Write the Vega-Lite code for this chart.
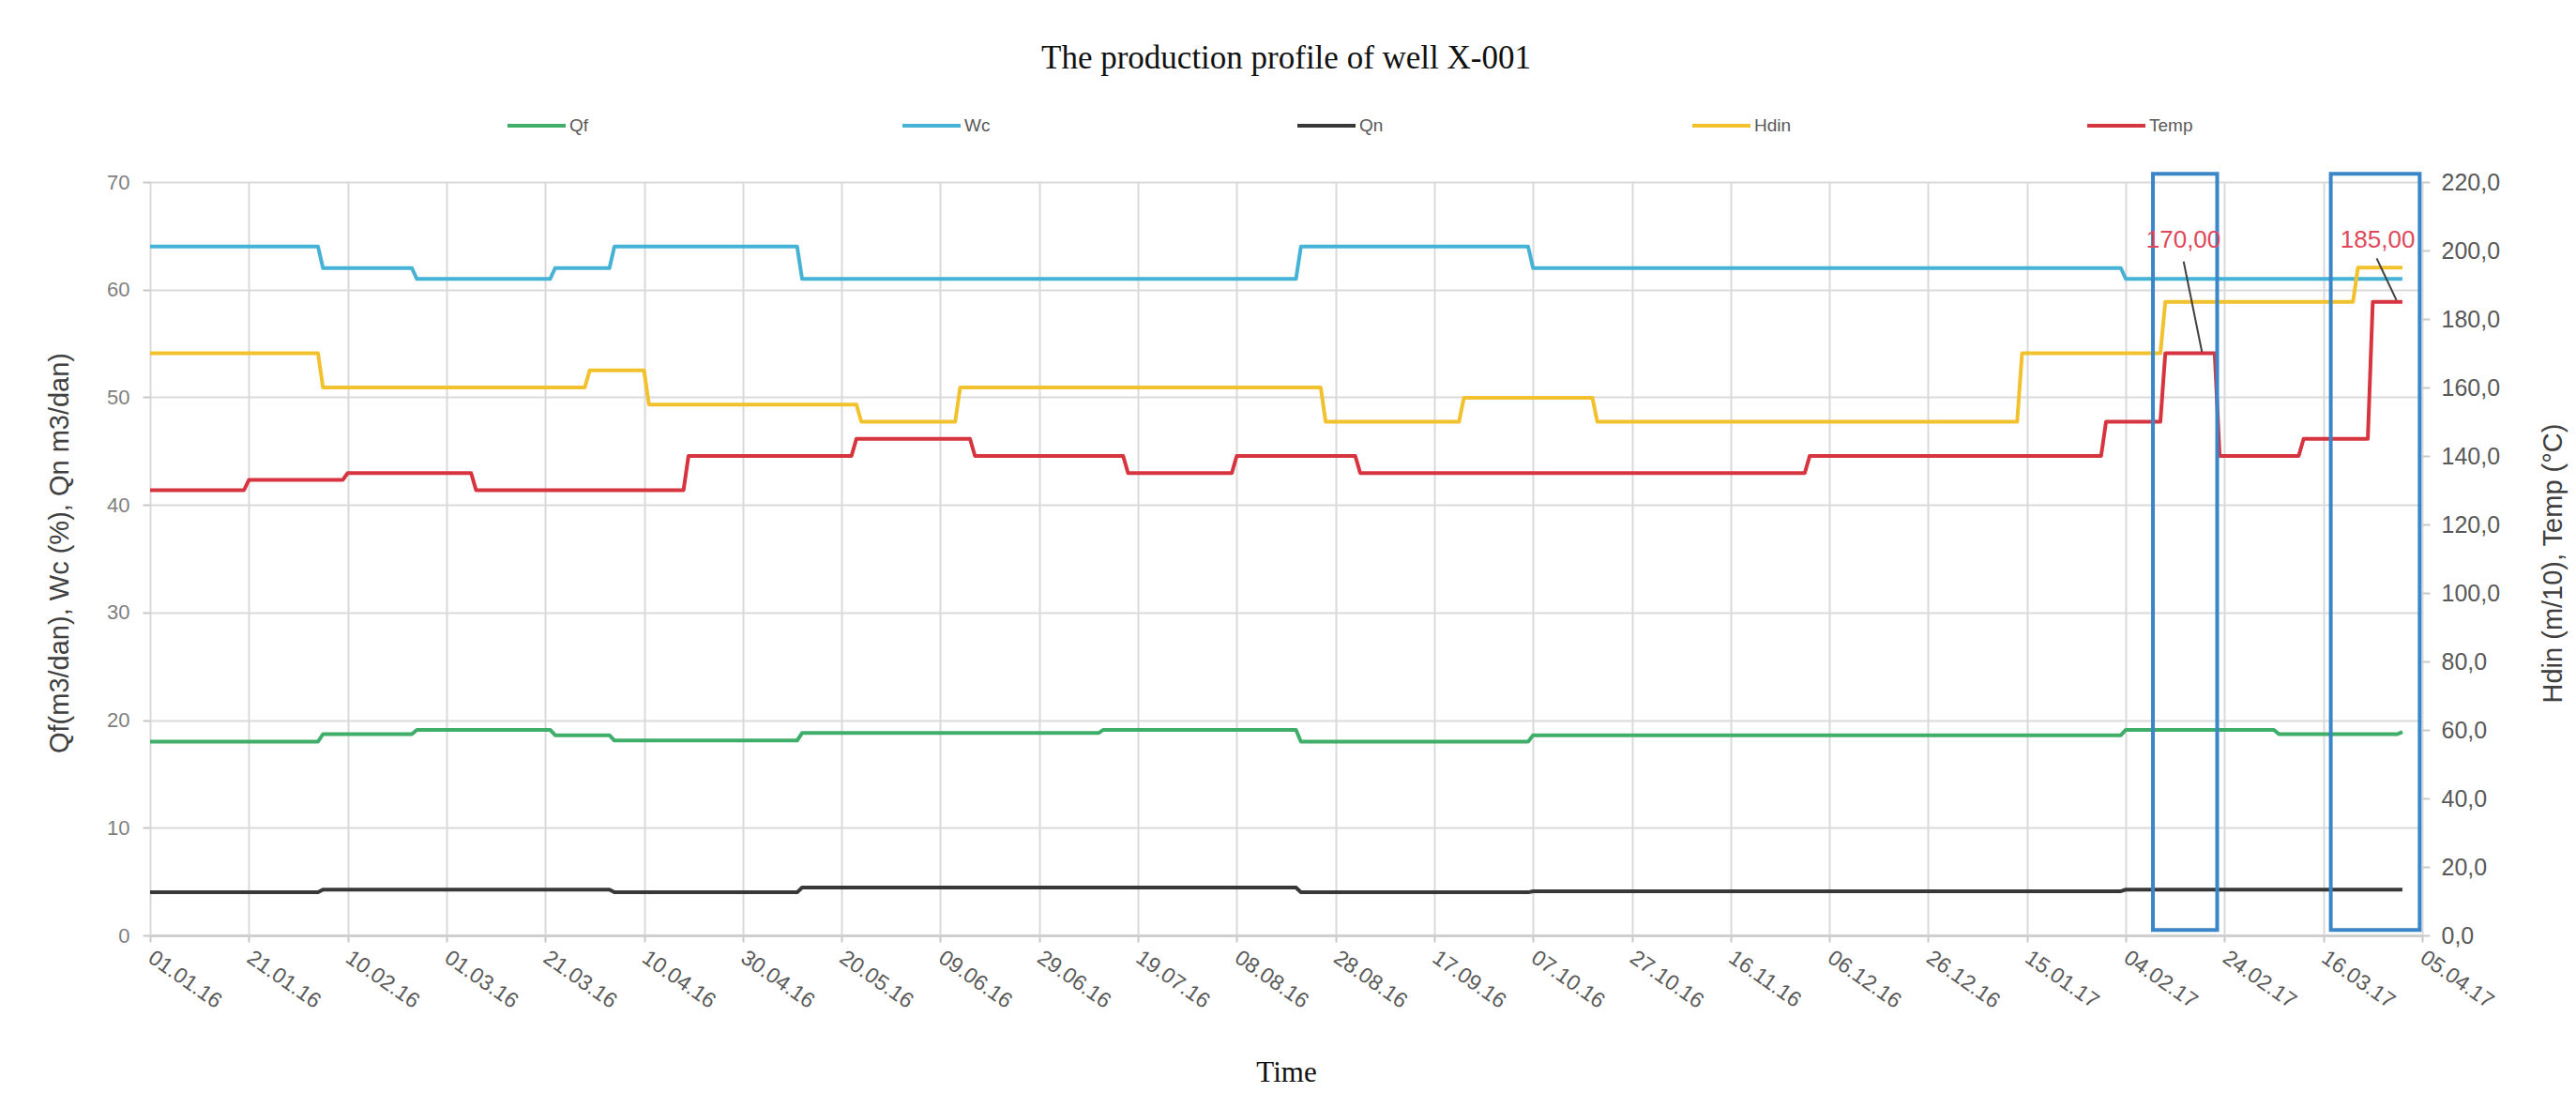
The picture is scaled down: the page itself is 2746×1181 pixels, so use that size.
{
  "$schema": "https://vega.github.io/schema/vega-lite/v6.json",
  "width": 2422,
  "height": 803,
  "autosize": {"type": "none"},
  "padding": {"left": 160, "top": 194, "right": 164, "bottom": 184},
  "background": "white",
  "title": {
    "text": "The production profile of well X-001",
    "font": "Liberation Serif",
    "fontSize": 35,
    "fontWeight": "normal",
    "color": "#111111",
    "anchor": "middle",
    "offset": 21
  },
  "config": {
    "view": {"stroke": null},
    "axis": {
      "labelFont": "Liberation Sans",
      "titleFont": "Liberation Sans",
      "gridColor": "#dadada",
      "gridWidth": 2,
      "tickColor": "#c8c8c8",
      "tickWidth": 2
    }
  },
  "datasets": {
    "lines": [
      {"s": "Qf", "d": "2016-01-01", "v": 18.0},
      {"s": "Qf", "d": "2016-02-04", "v": 18.0},
      {"s": "Qf", "d": "2016-02-05", "v": 18.7},
      {"s": "Qf", "d": "2016-02-23", "v": 18.7},
      {"s": "Qf", "d": "2016-02-24", "v": 19.1},
      {"s": "Qf", "d": "2016-03-22", "v": 19.1},
      {"s": "Qf", "d": "2016-03-23", "v": 18.6},
      {"s": "Qf", "d": "2016-04-03", "v": 18.6},
      {"s": "Qf", "d": "2016-04-04", "v": 18.1},
      {"s": "Qf", "d": "2016-05-11", "v": 18.1},
      {"s": "Qf", "d": "2016-05-12", "v": 18.8},
      {"s": "Qf", "d": "2016-07-11", "v": 18.8},
      {"s": "Qf", "d": "2016-07-12", "v": 19.1},
      {"s": "Qf", "d": "2016-08-20", "v": 19.1},
      {"s": "Qf", "d": "2016-08-21", "v": 18.0},
      {"s": "Qf", "d": "2016-10-06", "v": 18.0},
      {"s": "Qf", "d": "2016-10-07", "v": 18.6},
      {"s": "Qf", "d": "2017-02-03", "v": 18.6},
      {"s": "Qf", "d": "2017-02-04", "v": 19.1},
      {"s": "Qf", "d": "2017-03-06", "v": 19.1},
      {"s": "Qf", "d": "2017-03-07", "v": 18.7},
      {"s": "Qf", "d": "2017-03-31", "v": 18.7},
      {"s": "Qf", "d": "2017-04-01", "v": 18.9},
      {"s": "Wc", "d": "2016-01-01", "v": 64},
      {"s": "Wc", "d": "2016-02-04", "v": 64},
      {"s": "Wc", "d": "2016-02-05", "v": 62},
      {"s": "Wc", "d": "2016-02-23", "v": 62},
      {"s": "Wc", "d": "2016-02-24", "v": 61},
      {"s": "Wc", "d": "2016-03-22", "v": 61},
      {"s": "Wc", "d": "2016-03-23", "v": 62},
      {"s": "Wc", "d": "2016-04-03", "v": 62},
      {"s": "Wc", "d": "2016-04-04", "v": 64},
      {"s": "Wc", "d": "2016-05-11", "v": 64},
      {"s": "Wc", "d": "2016-05-12", "v": 61},
      {"s": "Wc", "d": "2016-08-20", "v": 61},
      {"s": "Wc", "d": "2016-08-21", "v": 64},
      {"s": "Wc", "d": "2016-10-06", "v": 64},
      {"s": "Wc", "d": "2016-10-07", "v": 62},
      {"s": "Wc", "d": "2017-02-03", "v": 62},
      {"s": "Wc", "d": "2017-02-04", "v": 61},
      {"s": "Wc", "d": "2017-04-01", "v": 61},
      {"s": "Qn", "d": "2016-01-01", "v": 4.0},
      {"s": "Qn", "d": "2016-02-04", "v": 4.0},
      {"s": "Qn", "d": "2016-02-05", "v": 4.25},
      {"s": "Qn", "d": "2016-04-03", "v": 4.25},
      {"s": "Qn", "d": "2016-04-04", "v": 4.0},
      {"s": "Qn", "d": "2016-05-11", "v": 4.0},
      {"s": "Qn", "d": "2016-05-12", "v": 4.45},
      {"s": "Qn", "d": "2016-08-20", "v": 4.45},
      {"s": "Qn", "d": "2016-08-21", "v": 4.0},
      {"s": "Qn", "d": "2016-10-06", "v": 4.0},
      {"s": "Qn", "d": "2016-10-07", "v": 4.1},
      {"s": "Qn", "d": "2017-02-03", "v": 4.1},
      {"s": "Qn", "d": "2017-02-04", "v": 4.25},
      {"s": "Qn", "d": "2017-04-01", "v": 4.25},
      {"s": "Hdin", "d": "2016-01-01", "v": 170},
      {"s": "Hdin", "d": "2016-02-04", "v": 170},
      {"s": "Hdin", "d": "2016-02-05", "v": 160},
      {"s": "Hdin", "d": "2016-03-29", "v": 160},
      {"s": "Hdin", "d": "2016-03-30", "v": 165},
      {"s": "Hdin", "d": "2016-04-10", "v": 165},
      {"s": "Hdin", "d": "2016-04-11", "v": 155},
      {"s": "Hdin", "d": "2016-05-23", "v": 155},
      {"s": "Hdin", "d": "2016-05-24", "v": 150},
      {"s": "Hdin", "d": "2016-06-12", "v": 150},
      {"s": "Hdin", "d": "2016-06-13", "v": 160},
      {"s": "Hdin", "d": "2016-08-25", "v": 160},
      {"s": "Hdin", "d": "2016-08-26", "v": 150},
      {"s": "Hdin", "d": "2016-09-22", "v": 150},
      {"s": "Hdin", "d": "2016-09-23", "v": 157},
      {"s": "Hdin", "d": "2016-10-19", "v": 157},
      {"s": "Hdin", "d": "2016-10-20", "v": 150},
      {"s": "Hdin", "d": "2017-01-13", "v": 150},
      {"s": "Hdin", "d": "2017-01-14", "v": 170},
      {"s": "Hdin", "d": "2017-02-11", "v": 170},
      {"s": "Hdin", "d": "2017-02-12", "v": 185},
      {"s": "Hdin", "d": "2017-03-22", "v": 185},
      {"s": "Hdin", "d": "2017-03-23", "v": 195},
      {"s": "Hdin", "d": "2017-04-01", "v": 195},
      {"s": "Temp", "d": "2016-01-01", "v": 130},
      {"s": "Temp", "d": "2016-01-20", "v": 130},
      {"s": "Temp", "d": "2016-01-21", "v": 133},
      {"s": "Temp", "d": "2016-02-09", "v": 133},
      {"s": "Temp", "d": "2016-02-10", "v": 135},
      {"s": "Temp", "d": "2016-03-06", "v": 135},
      {"s": "Temp", "d": "2016-03-07", "v": 130},
      {"s": "Temp", "d": "2016-04-18", "v": 130},
      {"s": "Temp", "d": "2016-04-19", "v": 140},
      {"s": "Temp", "d": "2016-05-22", "v": 140},
      {"s": "Temp", "d": "2016-05-23", "v": 145},
      {"s": "Temp", "d": "2016-06-15", "v": 145},
      {"s": "Temp", "d": "2016-06-16", "v": 140},
      {"s": "Temp", "d": "2016-07-16", "v": 140},
      {"s": "Temp", "d": "2016-07-17", "v": 135},
      {"s": "Temp", "d": "2016-08-07", "v": 135},
      {"s": "Temp", "d": "2016-08-08", "v": 140},
      {"s": "Temp", "d": "2016-09-01", "v": 140},
      {"s": "Temp", "d": "2016-09-02", "v": 135},
      {"s": "Temp", "d": "2016-12-01", "v": 135},
      {"s": "Temp", "d": "2016-12-02", "v": 140},
      {"s": "Temp", "d": "2017-01-30", "v": 140},
      {"s": "Temp", "d": "2017-01-31", "v": 150},
      {"s": "Temp", "d": "2017-02-11", "v": 150},
      {"s": "Temp", "d": "2017-02-12", "v": 170},
      {"s": "Temp", "d": "2017-02-22", "v": 170},
      {"s": "Temp", "d": "2017-02-23", "v": 140},
      {"s": "Temp", "d": "2017-03-11", "v": 140},
      {"s": "Temp", "d": "2017-03-12", "v": 145},
      {"s": "Temp", "d": "2017-03-25", "v": 145},
      {"s": "Temp", "d": "2017-03-26", "v": 185},
      {"s": "Temp", "d": "2017-04-01", "v": 185}
    ],
    "boxes": [
      {"start": "2017-02-09T12:00:00Z", "end": "2017-02-22T12:00:00Z", "bottom": 1.6, "top": 222.4},
      {"start": "2017-03-17T12:00:00Z", "end": "2017-04-04T12:00:00Z", "bottom": 1.6, "top": 222.4}
    ],
    "notes": [
      {"label": "170,00", "d": "2017-02-15T16:00:00Z", "v": 203, "d1": "2017-02-15T17:00:00Z", "v1": 196.8, "d2": "2017-02-19T10:00:00Z", "v2": 170.4},
      {"label": "185,00", "d": "2017-03-27T00:00:00Z", "v": 203, "d1": "2017-03-26T19:00:00Z", "v1": 197.7, "d2": "2017-03-30T19:00:00Z", "v2": 185.5}
    ]
  },
  "layer": [
    {
      "data": {"name": "lines"},
      "transform": [{"filter": "datum.s === 'Qf' || datum.s === 'Wc' || datum.s === 'Qn'"}],
      "mark": {"type": "line", "strokeWidth": 4, "strokeJoin": "round"},
      "encoding": {
        "x": {
          "field": "d",
          "type": "temporal",
          "scale": {"type": "utc", "domain": [{"year": 2016, "month": 1, "date": 1, "utc": true}, {"year": 2017, "month": 4, "date": 5, "utc": true}], "nice": false},
          "axis": {
            "title": "Time",
            "titleFont": "Liberation Serif",
            "titleFontSize": 31,
            "titleFontWeight": "normal",
            "titleColor": "#111111",
            "titleBaseline": "alphabetic",
            "titleY": 155,
            "format": "%d.%m.%y",
            "values": [
              {"year": 2016, "month": 1, "date": 1, "utc": true},
              {"year": 2016, "month": 1, "date": 21, "utc": true},
              {"year": 2016, "month": 2, "date": 10, "utc": true},
              {"year": 2016, "month": 3, "date": 1, "utc": true},
              {"year": 2016, "month": 3, "date": 21, "utc": true},
              {"year": 2016, "month": 4, "date": 10, "utc": true},
              {"year": 2016, "month": 4, "date": 30, "utc": true},
              {"year": 2016, "month": 5, "date": 20, "utc": true},
              {"year": 2016, "month": 6, "date": 9, "utc": true},
              {"year": 2016, "month": 6, "date": 29, "utc": true},
              {"year": 2016, "month": 7, "date": 19, "utc": true},
              {"year": 2016, "month": 8, "date": 8, "utc": true},
              {"year": 2016, "month": 8, "date": 28, "utc": true},
              {"year": 2016, "month": 9, "date": 17, "utc": true},
              {"year": 2016, "month": 10, "date": 7, "utc": true},
              {"year": 2016, "month": 10, "date": 27, "utc": true},
              {"year": 2016, "month": 11, "date": 16, "utc": true},
              {"year": 2016, "month": 12, "date": 6, "utc": true},
              {"year": 2016, "month": 12, "date": 26, "utc": true},
              {"year": 2017, "month": 1, "date": 15, "utc": true},
              {"year": 2017, "month": 2, "date": 4, "utc": true},
              {"year": 2017, "month": 2, "date": 24, "utc": true},
              {"year": 2017, "month": 3, "date": 16, "utc": true},
              {"year": 2017, "month": 4, "date": 5, "utc": true}
            ],
            "labelAngle": 35,
            "labelAlign": "left",
            "labelBaseline": "middle",
            "labelFontSize": 23,
            "labelColor": "#595959",
            "labelPadding": 14,
            "labelOverlap": false,
            "labelFlush": false,
            "tickSize": 7,
            "domain": true,
            "domainColor": "#cfcfcf",
            "domainWidth": 3,
            "grid": true
          }
        },
        "y": {
          "field": "v",
          "type": "quantitative",
          "scale": {"domain": [0, 70], "nice": false},
          "axis": {
            "title": "Qf(m3/dan), Wc (%), Qn m3/dan)",
            "titleFontSize": 29,
            "titleFontWeight": "normal",
            "titleColor": "#404040",
            "titleAngle": -90,
            "titleBaseline": "middle",
            "titleX": -97,
            "titleY": 395,
            "values": [0, 10, 20, 30, 40, 50, 60, 70],
            "labelFontSize": 22,
            "labelColor": "#7f7f7f",
            "labelPadding": 14,
            "tickSize": 8,
            "domain": false,
            "grid": true
          }
        },
        "color": {
          "field": "s",
          "type": "nominal",
          "scale": {"domain": ["Qf", "Wc", "Qn", "Hdin", "Temp"], "range": ["#3fae6a", "#45b2d6", "#383838", "#f2c12e", "#d6343f"]},
          "legend": {
            "orient": "none",
            "legendX": 379,
            "legendY": -93,
            "direction": "horizontal",
            "columns": 5,
            "gridAlign": "all",
            "columnPadding": 300,
            "title": null,
            "symbolType": "stroke",
            "symbolSize": 3844,
            "symbolStrokeWidth": 4,
            "labelFont": "Liberation Sans",
            "labelFontSize": 19,
            "labelColor": "#595959",
            "labelOffset": 2
          }
        }
      }
    },
    {
      "layer": [
        {
          "data": {"name": "lines"},
          "transform": [{"filter": "datum.s === 'Hdin' || datum.s === 'Temp'"}],
          "mark": {"type": "line", "strokeWidth": 4, "strokeJoin": "round"},
          "encoding": {
            "x": {"field": "d", "type": "temporal"},
            "y": {
              "field": "v",
              "type": "quantitative",
              "scale": {"domain": [0, 220], "nice": false},
              "axis": {
                "orient": "right",
                "title": "Hdin (m/10), Temp (°C)",
                "titleFontSize": 29,
                "titleFontWeight": "normal",
                "titleColor": "#404040",
                "titleAngle": -90,
                "titleBaseline": "middle",
                "titleX": 139,
                "titleY": 406,
                "values": [0, 20, 40, 60, 80, 100, 120, 140, 160, 180, 200, 220],
                "labelExpr": "replace(format(datum.value, '.1f'), '.', ',')",
                "labelFontSize": 25,
                "labelColor": "#595959",
                "labelPadding": 12,
                "tickSize": 8,
                "domain": false,
                "grid": false
              }
            },
            "color": {"field": "s", "type": "nominal"}
          }
        },
        {
          "data": {"name": "boxes"},
          "mark": {"type": "rect", "fill": null, "fillOpacity": 0, "stroke": "#3a86c8", "strokeWidth": 4},
          "encoding": {
            "x": {"field": "start", "type": "temporal"},
            "x2": {"field": "end"},
            "y": {"field": "bottom", "type": "quantitative"},
            "y2": {"field": "top"}
          }
        },
        {
          "data": {"name": "notes"},
          "mark": {"type": "rule", "color": "#404040", "strokeWidth": 2},
          "encoding": {
            "x": {"field": "d1", "type": "temporal"},
            "x2": {"field": "d2"},
            "y": {"field": "v1", "type": "quantitative"},
            "y2": {"field": "v2"}
          }
        },
        {
          "data": {"name": "notes"},
          "mark": {"type": "text", "font": "Liberation Sans", "fontSize": 26, "color": "#e0475a", "align": "center", "baseline": "middle"},
          "encoding": {
            "x": {"field": "d", "type": "temporal"},
            "y": {"field": "v", "type": "quantitative"},
            "text": {"field": "label"}
          }
        }
      ]
    }
  ],
  "resolve": {"scale": {"y": "independent"}}
}
